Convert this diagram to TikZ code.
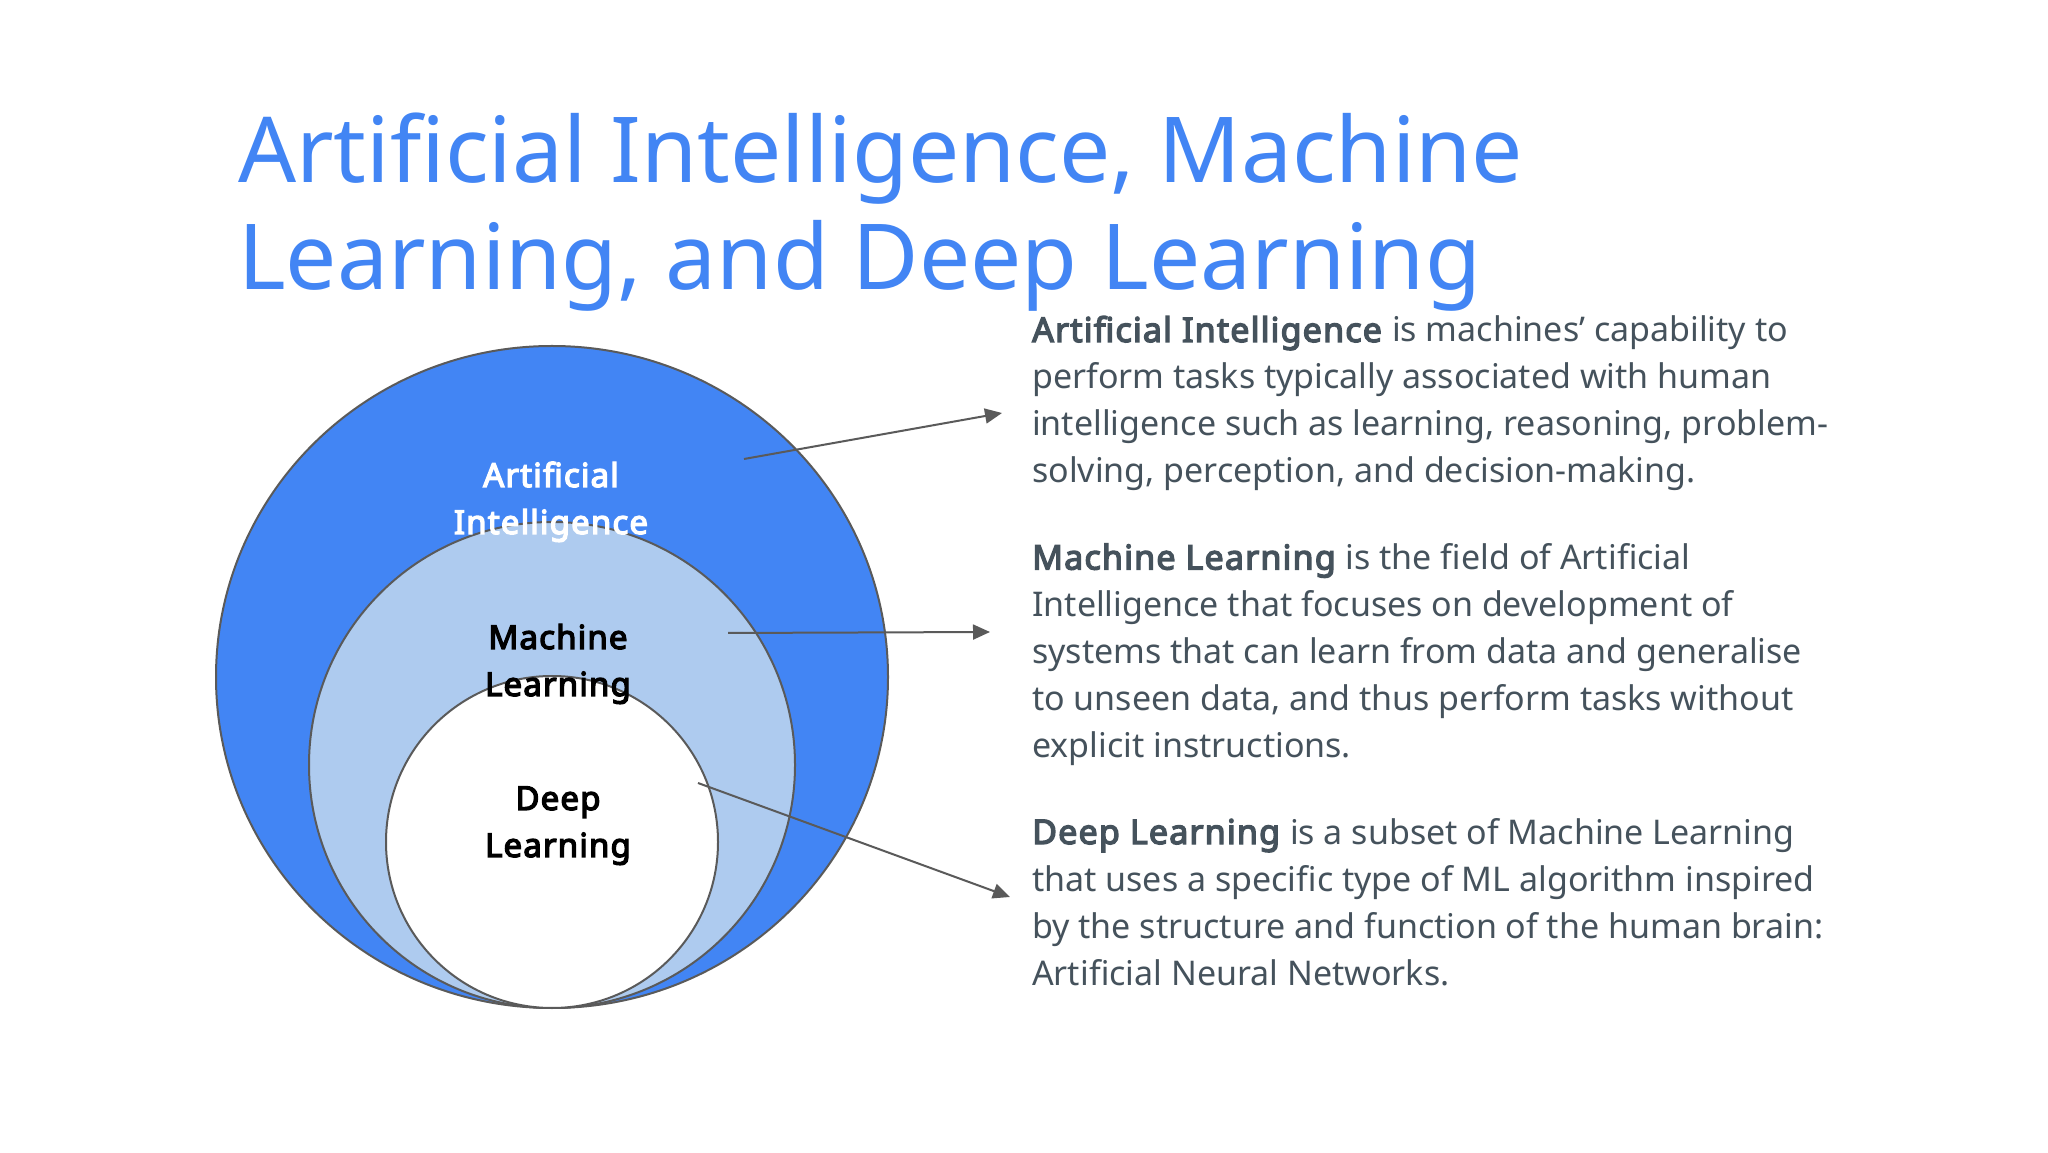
\documentclass[tikz,border=0pt]{standalone}
\usepackage{fontspec}
\setmainfont{Noto Sans}[BoldFont={Noto Sans},BoldFeatures={FakeBold=4,LetterSpace=3.5}]
\usetikzlibrary{arrows.meta,positioning,calc,shapes.geometric}
\definecolor{aiblue}{HTML}{4285F4}
\definecolor{mlblue}{HTML}{AECBEF}
\definecolor{bodygray}{HTML}{45525C}
\definecolor{edgegray}{HTML}{5A5A5A}

\begin{document}
\begin{tikzpicture}[x=1pt,y=1pt,
  ring/.style={circle,draw=edgegray,line width=2pt,inner sep=0pt},
  ringlabel/.style={font=\fontsize{33}{47}\selectfont\bfseries,align=center,anchor=base,inner sep=0pt},
  desc/.style={font=\fontsize{34}{47}\selectfont,text=bodygray,align=left,anchor=base west,inner sep=0pt},
  pointer/.style={draw=edgegray,line width=2pt,-{Triangle[length=17pt,width=15pt]}}]
  \useasboundingbox[fill=white] (0,0) rectangle (2048,1152);
  % title (anchor sits on the last line)
  \node[font=\fontsize{91}{107}\selectfont,text=aiblue,align=left,anchor=base west,inner sep=0pt]
    (title) at (238,862) {Artificial Intelligence, Machine\\Learning, and Deep Learning};
  % nested circles, all touching at the bottom
  \node[ring,ellipse,fill=aiblue,minimum width=672pt,minimum height=662pt] (aiRing) at (552,475) {};
  \node[ring,fill=mlblue,minimum size=486pt] (mlRing) at (552,387) {};
  \node[ring,fill=white,minimum size=332pt] (dlRing) at (552,310) {};
  % circle labels
  \node[ringlabel,text=white] (aiLabel) at (551,618) {Artificial\\Intelligence};
  \node[ringlabel,text=black] (mlLabel) at (558,456) {Machine\\Learning};
  \node[ringlabel,text=black] (dlLabel) at (558,295) {Deep\\Learning};
  % descriptions
  \node[desc] (aiText) at (1032,669) {\textbf{Artificial Intelligence} is machines’ capability to\\
    perform tasks typically associated with human\\
    intelligence such as learning, reasoning, problem-\\
    solving, perception, and decision-making.};
  \node[desc] (mlText) at (1032,394.5) {\textbf{Machine Learning} is the field of Artificial\\
    Intelligence that focuses on development of\\
    systems that can learn from data and generalise\\
    to unseen data, and thus perform tasks without\\
    explicit instructions.};
  \node[desc] (dlText) at (1032,167) {\textbf{Deep Learning} is a subset of Machine Learning\\
    that uses a specific type of ML algorithm inspired\\
    by the structure and function of the human brain:\\
    Artificial Neural Networks.};
  % pointers
  \coordinate (aiFrom) at (744,693);
  \coordinate (aiTo) at (1002,739);
  \coordinate (mlFrom) at (728,519);
  \coordinate (mlTo) at (990,520);
  \coordinate (dlFrom) at (698,369);
  \coordinate (dlTo) at (1010,255);
  \draw[pointer] (aiFrom) -- (aiTo);
  \draw[pointer] (mlFrom) -- (mlTo);
  \draw[pointer] (dlFrom) -- (dlTo);
\end{tikzpicture}
\end{document}
